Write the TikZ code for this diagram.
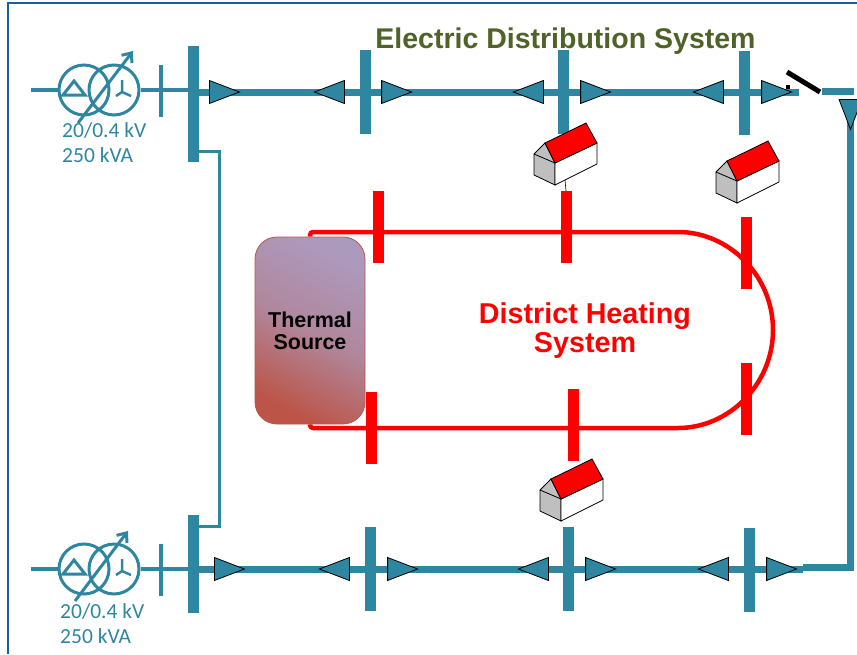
\documentclass[tikz,border=0pt]{standalone}
\usepackage{fontspec}
\setmainfont{Liberation Sans}
\newfontfamily\carlito{Carlito}
\usepackage{xcolor}
\definecolor{gridteal}{HTML}{2E86A0}
\definecolor{framebl}{HTML}{1A5F9E}
\definecolor{titlegr}{HTML}{4F6228}
\definecolor{srcred}{HTML}{BC5548}
\definecolor{srcpur}{HTML}{AC9ABD}
\usepackage{tikz}
\usetikzlibrary{arrows.meta,positioning,shapes.geometric,backgrounds,calc}

\begin{document}
\begin{tikzpicture}[
  x=1pt,y=-1pt,
  node distance=10pt,
  busbar/.style={rectangle,fill=gridteal,inner sep=0pt,minimum width=11pt,minimum height=84pt},
  hotbar/.style={rectangle,fill=red,inner sep=0pt,minimum width=11pt,minimum height=72pt},
  tickbar/.style={rectangle,fill=gridteal,inner sep=0pt,minimum width=3.5pt,minimum height=52pt},
  flowr/.style={isosceles triangle,isosceles triangle stretches,shape border rotate=0,draw=black,line width=0.8pt,
    fill=gridteal,inner sep=0pt,minimum width=23pt,minimum height=30pt},
  flowl/.style={flowr,shape border rotate=180},
  flowd/.style={flowr,shape border rotate=270},
  winding/.style={circle,draw=gridteal,line width=3pt,inner sep=0pt,minimum size=50pt},
  feeder/.style={gridteal,line width=7pt},
  tie/.style={gridteal,line width=3pt},
  stub/.style={gridteal,line width=3.5pt},
  tap/.style={gridteal,line width=3pt,-{Straight Barb[length=8pt,width=13pt]}},
  pipe/.style={red,line width=4.5pt,rounded corners=3pt},
  rating/.style={font=\carlito\fontsize{21.5}{25.5}\selectfont,text=gridteal,align=left,inner sep=0pt},
  transformer/.pic={
    \node[winding] (-prim) at (-15,0) {};
    \node[winding] (-sec) at (15,0) {};
    \draw[gridteal,line width=3pt] (-36,5) -- (-14,5) -- (-25,-9) -- cycle;
    \draw[gridteal,line width=2.5pt] (23,2) -- (23,-10) (23,2) -- (17,6) (23,2) -- (32,6);
  },
  house/.pic={
    \filldraw[draw=black,fill=black!25,line width=0.8pt] (0,0) -- (11,-11) -- (21,9) -- (21,31) -- (0,21) -- cycle;
    \draw[black,line width=0.8pt] (0,0) -- (21,9);
    \filldraw[draw=black,fill=white,line width=0.8pt] (21,9) -- (63,-11) -- (63,10) -- (21,31) -- cycle;
    \filldraw[draw=black,fill=red,line width=0.8pt] (11,-11) -- (52,-31) -- (63,-11) -- (21,9) -- cycle;
    \coordinate (-foot) at (31,26);
  },
]
\useasboundingbox (0,0) rectangle (857,654);

% Frame
\coordinate (frameA) at (857,3);
\coordinate (frameB) at (7.5,3);
\coordinate (frameC) at (7.5,654);
\draw[framebl,line width=2pt] (frameA) -- (frameB) -- (frameC);

% Titles
\node[font=\bfseries\fontsize{28.5}{30}\selectfont,text=titlegr,inner sep=0pt] (title) at (565.5,41) {Electric Distribution System};
\node[font=\bfseries\fontsize{28.7}{29}\selectfont,text=red,align=center,inner sep=0pt] (dhs) at (585,331) {District Heating\\System};

% Upper feeder
\node[busbar,minimum height=116pt] (busTop) at (193.5,104) {};
\node[busbar] (barTopA) at (365.5,92) {};
\node[busbar] (barTopB) at (563.5,92) {};
\node[busbar] (barTopC) at (744.5,93) {};
\node[flowr] (flowTopA) at (209,92) [anchor=west] {};
\node[flowl,left=15pt of barTopA] (flowTopB) {};
\node[flowr,right=10pt of barTopA] (flowTopC) {};
\node[flowl,left=14pt of barTopB] (flowTopD) {};
\node[flowr,right=11pt of barTopB] (flowTopE) {};
\node[flowl,left=15pt of barTopC,yshift=1pt] (flowTopF) {};
\node[flowr,right=11pt of barTopC,yshift=1pt] (flowTopG) {};
\coordinate (endTop) at (799,92);

% Lower feeder
\node[busbar,minimum height=98pt] (busBot) at (193.5,564) {};
\node[busbar] (barBotA) at (370.5,569) {};
\node[busbar] (barBotB) at (568.5,569) {};
\node[busbar] (barBotC) at (749.5,570) {};
\node[flowr] (flowBotA) at (214,569) [anchor=west] {};
\node[flowl,left=15pt of barBotA] (flowBotB) {};
\node[flowr,right=11pt of barBotA] (flowBotC) {};
\node[flowl,left=14pt of barBotB] (flowBotD) {};
\node[flowr,right=11pt of barBotB] (flowBotE) {};
\node[flowl,left=15pt of barBotC,yshift=1pt] (flowBotF) {};
\node[flowr,right=11pt of barBotC,yshift=1pt] (flowBotG) {};
\coordinate (endBot) at (803,569);

% Transformers
\pic (xfTop) at (99,90) {transformer};
\pic (xfBot) at (99,569) {transformer};
\node[tickbar] (tickTop) at (161,91) {};
\node[tickbar] (tickBot) at (161,570) {};
\coordinate (lineTop) at (31,90);
\coordinate (lineBot) at (31,569);
\coordinate (tapTopA) at (78,123);
\coordinate (tapTopB) at (133,51);
\coordinate (tapBotA) at (75,601);
\coordinate (tapBotB) at (128,531);
\node[rating,anchor=north west] (rateTop) at (62,122) {20/0.4 kV\\250 kVA};
\node[rating,anchor=north west] (rateBot) at (60,603) {20/0.4 kV\\250 kVA};
\draw[stub] (lineTop) -- (xfTop-prim.west);
\draw[stub] (lineBot) -- (xfBot-prim.west);
\draw[stub] (xfTop-sec.east) -- (xfTop-sec -| busTop);
\draw[stub] (xfBot-sec.east) -- (xfBot-sec -| busBot);
\draw[tap] (tapTopA) -- (tapTopB);
\draw[tap] (tapBotA) -- (tapBotB);

% Switch and return line
\coordinate (bladeA) at (787,72);
\coordinate (bladeB) at (820,92);
\coordinate (retA) at (822,91.5);
\coordinate (retB) at (854,91.5);
\coordinate (retC) at (850.5,567.5);
\coordinate (retD) at (803,567.5);
\node[rectangle,fill=black,inner sep=0pt,minimum size=4pt] (bladePin) at (788,87) {};
\node[flowd] (flowRet) at (850.5,99) [anchor=north] {};
\draw[black,line width=5pt] (bladeA) -- (bladeB);

% Thermal source
\node[rectangle,rounded corners=22pt,draw=srcred,line width=0.8pt,top color=srcpur,bottom color=srcred,
  middle color=srcpur!72!srcred,shading angle=-28,minimum width=110pt,minimum height=187pt,inner sep=0pt,
  font=\bfseries\fontsize{21.5}{22}\selectfont,align=center] (source) at (310,330.5) {Thermal\\Source};

% Heating bars
\node[hotbar] (hotA) at (378.5,227) {};
\node[hotbar] (hotB) at (566,227) {};
\node[hotbar] (hotC) at (746.5,253) {};
\node[hotbar] (hotD) at (746.5,399) {};
\node[hotbar] (hotE) at (371.5,428) {};
\node[hotbar] (hotF) at (573,425) {};

% Houses
\pic (houseA) at (534,154) {house};
\pic (houseB) at (716,172) {house};
\pic (houseC) at (540,490) {house};

% Connectors
\begin{scope}[on background layer]
  \draw[feeder] (flowTopA -| busTop) -- (flowTopA.center) -- (flowTopB.center) -- (flowTopC.center) -- (flowTopD.center)
    -- (flowTopE.center) -- (flowTopF.center) -- (flowTopG.center) -- (endTop);
  \draw[feeder] (flowBotA -| busBot) -- (flowBotA.center) -- (flowBotB.center) -- (flowBotC.center) -- (flowBotD.center)
    -- (flowBotE.center) -- (flowBotF.center) -- (flowBotG.center) -- (endBot);
  \draw[feeder] (retA) -- (retB) (flowRet.center) -- (retC) (retC |- retD) ++(3.5,0) -- (retD);
  \draw[tie] (busTop.east |- 0,151) -- (219,151) -- (219,526) -- (busBot.east |- 0,526);
  \draw[pipe] (source.north) -- (source.north |- 0,232) -- (675,232)
    arc[start angle=-90,end angle=90,radius=98] -- (source.south |- 0,428) -- (source.south);
\end{scope}
\draw[black,line width=0.6pt] (houseA-foot) -- (hotB.north);
\end{tikzpicture}
\end{document}
